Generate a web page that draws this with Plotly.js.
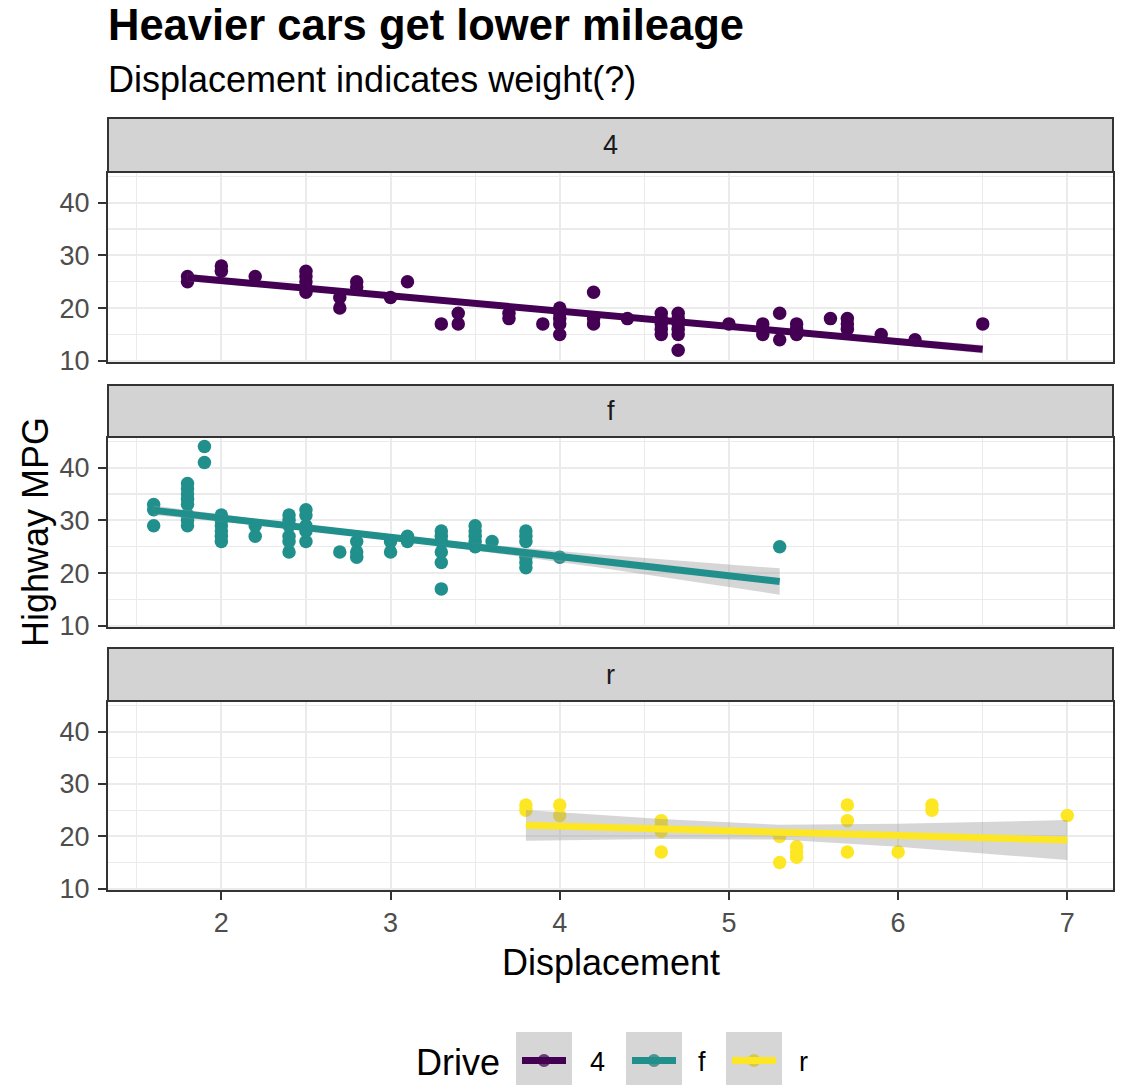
<!DOCTYPE html>
<html>
<head>
<meta charset="utf-8">
<script src="https://cdn.plot.ly/plotly-3.0.1.min.js"></script>
<style>html,body{margin:0;padding:0;background:#fff}#chart{width:1129px;height:1085px}</style>
</head>
<body>
<div id="chart"></div>
<script>
// ---- data ----
const drives = ["4", "f", "r"];
const colors = ["#440154", "#21908C", "#FDE725"];

const x4 = [1.8,1.8, 2.0,2.0, 2.2, 2.5,2.5,2.5,2.5,2.5, 2.7,2.7, 2.8,2.8, 3.0, 3.1, 3.3, 3.4,3.4, 3.7,3.7, 3.9,
            4.0,4.0,4.0,4.0,4.0, 4.2,4.2,4.2, 4.4, 4.6,4.6,4.6,4.6,4.6, 4.7,4.7,4.7,4.7,4.7,4.7, 5.0,
            5.2,5.2,5.2, 5.3,5.3, 5.4,5.4,5.4, 5.6, 5.7,5.7,5.7, 5.9, 6.1, 6.5];
const y4 = [25,26, 27,28, 26, 23,24,25,26,27, 20,22, 24,25, 22, 25, 17, 17,19, 18,19, 17,
            15,17,18,19,20, 17,18,23, 18, 15,16,17,18,19, 12,15,16,17,18,19, 17,
            15,16,17, 14,19, 15,16,17, 18, 16,17,18, 15, 14, 17];

const xf = [1.6,1.6,1.6, 1.8,1.8,1.8,1.8,1.8,1.8,1.8,1.8, 1.9,1.9, 2.0,2.0,2.0,2.0,2.0,2.0, 2.2,2.2,
            2.4,2.4,2.4,2.4,2.4,2.4, 2.5,2.5,2.5,2.5,2.5, 2.7, 2.8,2.8,2.8, 3.0,3.0, 3.1,3.1,
            3.3,3.3,3.3,3.3,3.3,3.3, 3.5,3.5,3.5,3.5,3.5, 3.6, 3.8,3.8,3.8,3.8,3.8,3.8, 4.0, 5.3];
const yf = [29,32,33, 29,30,31,33,34,35,36,37, 41,44, 26,27,28,29,30,31, 27,29,
            24,26,27,29,30,31, 26,28,29,31,32, 24, 23,24,26, 24,26, 26,27,
            17,22,24,26,27,28, 25,26,27,28,29, 26, 21,22,23,26,27,28, 23, 25];

const xr = [3.8,3.8, 4.0,4.0, 4.6,4.6,4.6,4.6, 5.3,5.3, 5.4,5.4,5.4, 5.7,5.7,5.7, 6.0, 6.2,6.2, 7.0];
const yr = [25,26, 24,26, 17,21,22,23, 15,20, 16,17,18, 17,23,26, 17, 25,26, 24];

// linear-fit lines and confidence bands
const fit4X  = [1.8, 3.0, 4.2, 5.4, 6.5];
const fit4Y  = [25.8, 22.3, 18.9, 15.4, 12.2];
const fit4Lo = [25.1, 21.9, 18.6, 15.0, 11.4];
const fit4Hi = [26.5, 22.7, 19.2, 15.8, 13.0];

const fitfX  = [1.6, 2.5, 3.3, 4.2, 5.3];
const fitfY  = [31.9, 28.6, 25.7, 22.4, 18.4];
const fitfLo = [31.0, 28.15, 25.2, 21.2, 15.9];
const fitfHi = [32.8, 29.05, 26.2, 23.6, 20.9];

const fitrX  = [3.8, 4.6, 5.3, 6.0, 7.0];
const fitrY  = [22.1, 21.4, 20.8, 20.2, 19.3];
const fitrLo = [19.15, 19.5, 19.4, 18.0, 15.5];
const fitrHi = [25.05, 23.3, 22.2, 22.4, 23.1];

const yTicks = [10, 20, 30, 40];
const xTicks = [2, 3, 4, 5, 6, 7];

// ---- layout helpers ----
const W = 1129, H = 1085;
const px = v => v / W;
const py = v => 1 - v / H;
const FONT = "Liberation Sans, Arial, Helvetica, sans-serif";

const panels = [
  {xs: x4, ys: y4, fx: fit4X, fy: fit4Y, lo: fit4Lo, hi: fit4Hi, top: 173, bot: 362, sTop: 118, sBot: 172},
  {xs: xf, ys: yf, fx: fitfX, fy: fitfY, lo: fitfLo, hi: fitfHi, top: 438, bot: 627, sTop: 385, sBot: 437},
  {xs: xr, ys: yr, fx: fitrX, fy: fitrY, lo: fitrLo, hi: fitrHi, top: 702, bot: 890, sTop: 648, sBot: 701}
];

const traces = [];
const layout = {
  width: W, height: H,
  margin: {l: 0, r: 0, t: 0, b: 0, pad: 0},
  paper_bgcolor: "#ffffff", plot_bgcolor: "#ffffff",
  showlegend: false,
  font: {family: FONT, color: "#000"},
  shapes: [], annotations: []
};

const xDomain = [px(108), px(1113)];

panels.forEach((p, i) => {
  const sfx = i === 0 ? "" : String(i + 1);
  const xa = "x" + sfx, ya = "y" + sfx;
  // points
  traces.push({type: "scatter", mode: "markers", x: p.xs, y: p.ys, xaxis: xa, yaxis: ya,
    marker: {color: colors[i], size: 13.5, line: {width: 0}}, hoverinfo: "skip"});
  // band
  traces.push({type: "scatter", mode: "lines", xaxis: xa, yaxis: ya,
    x: p.fx.concat(p.fx.slice().reverse()), y: p.hi.concat(p.lo.slice().reverse()),
    fill: "toself", fillcolor: "rgba(153,153,153,0.4)", line: {width: 0}, hoverinfo: "skip"});
  // fit line
  traces.push({type: "scatter", mode: "lines", x: p.fx, y: p.fy, xaxis: xa, yaxis: ya,
    line: {color: colors[i], width: 7}, hoverinfo: "skip"});

  const isBottom = i === 2;
  layout["xaxis" + sfx] = {
    domain: xDomain, anchor: ya, range: [1.33, 7.27],
    tickmode: "array", tickvals: xTicks, ticktext: xTicks.map(String),
    showticklabels: isBottom, ticks: isBottom ? "outside" : "",
    ticklen: 8, tickwidth: 2, tickcolor: "#333333",
    tickfont: {size: 27, color: "#4d4d4d", family: FONT}, ticklabelstandoff: 0,
    showgrid: true, gridcolor: "#ebebeb", gridwidth: 2,
    minor: {tickmode: "array", tickvals: [1.5, 2.5, 3.5, 4.5, 5.5, 6.5], showgrid: true, gridcolor: "#ebebeb", gridwidth: 1.1, ticks: ""},
    zeroline: false, showline: true, mirror: true, linecolor: "#333333", linewidth: 2,
    fixedrange: true
  };
  layout["yaxis" + sfx] = {
    domain: [py(p.bot), py(p.top)], anchor: xa, range: [9.77, 45.63],
    tickmode: "array", tickvals: yTicks, ticktext: yTicks.map(String),
    ticks: "outside", ticklen: 8, tickwidth: 2, tickcolor: "#333333",
    tickfont: {size: 27, color: "#4d4d4d", family: FONT}, ticklabelstandoff: 3,
    showgrid: true, gridcolor: "#ebebeb", gridwidth: 2,
    minor: {tickmode: "array", tickvals: [15, 25, 35, 45], showgrid: true, gridcolor: "#ebebeb", gridwidth: 1.1, ticks: ""},
    zeroline: false, showline: true, mirror: true, linecolor: "#333333", linewidth: 2,
    fixedrange: true
  };

  // strip
  layout.shapes.push({type: "rect", xref: "paper", yref: "paper",
    x0: px(108), x1: px(1113), y0: py(p.sBot), y1: py(p.sTop),
    fillcolor: "#d3d3d3", line: {color: "#333333", width: 2}});
  layout.annotations.push({xref: "paper", yref: "paper", x: px(610.5), y: py((p.sTop + p.sBot) / 2),
    text: drives[i], showarrow: false, xanchor: "center", yanchor: "middle",
    font: {size: 27, color: "#1a1a1a", family: FONT}});
});

// titles
layout.annotations.push({xref: "paper", yref: "paper", x: px(106), y: py(25), xanchor: "left", yanchor: "middle",
  text: "<b>Heavier cars get lower mileage</b>", showarrow: false, font: {size: 43.5, color: "#000", family: FONT}});
layout.annotations.push({xref: "paper", yref: "paper", x: px(106), y: py(79), xanchor: "left", yanchor: "middle",
  text: "Displacement indicates weight(?)", showarrow: false, font: {size: 36, color: "#000", family: FONT}});
layout.annotations.push({xref: "paper", yref: "paper", x: px(610.5), y: py(962), xanchor: "center", yanchor: "middle",
  text: "Displacement", showarrow: false, font: {size: 36, color: "#000", family: FONT}});
layout.annotations.push({xref: "paper", yref: "paper", x: px(36), y: py(532), xanchor: "center", yanchor: "middle",
  text: "Highway MPG", textangle: -90, showarrow: false, font: {size: 36, color: "#000", family: FONT}});

// legend (manual, ggplot style)
layout.annotations.push({xref: "paper", yref: "paper", x: px(414), y: py(1062), xanchor: "left", yanchor: "middle",
  text: "Drive", showarrow: false, font: {size: 36, color: "#000", family: FONT}});
const keyLeft = [516, 626, 726];
const labelX = [597, 702, 803];
drives.forEach((d, i) => {
  const x0 = keyLeft[i], x1 = x0 + 56, cy = 1060.5, cx = (x0 + x1) / 2;
  layout.shapes.push({type: "rect", xref: "paper", yref: "paper", x0: px(x0), x1: px(x1), y0: py(1086), y1: py(1032),
    fillcolor: "#ffffff", line: {width: 0}, layer: "above"});
  layout.shapes.push({type: "circle", xref: "paper", yref: "paper", x0: px(cx - 6.5), x1: px(cx + 6.5), y0: py(cy + 6.5), y1: py(cy - 6.5),
    fillcolor: colors[i], line: {width: 0}, layer: "above"});
  layout.shapes.push({type: "rect", xref: "paper", yref: "paper", x0: px(x0), x1: px(x1), y0: py(1086), y1: py(1032),
    fillcolor: "rgba(153,153,153,0.4)", line: {width: 0}, layer: "above"});
  layout.shapes.push({type: "line", xref: "paper", yref: "paper", x0: px(x0 + 6), x1: px(x1 - 6), y0: py(cy), y1: py(cy),
    line: {color: colors[i], width: 7}, layer: "above"});
  layout.annotations.push({xref: "paper", yref: "paper", x: px(labelX[i]), y: py(1062), xanchor: "center", yanchor: "middle",
    text: d, showarrow: false, font: {size: 27, color: "#000", family: FONT}});
});

Plotly.newPlot("chart", traces, layout, {staticPlot: true, displayModeBar: false});
</script>
</body>
</html>
